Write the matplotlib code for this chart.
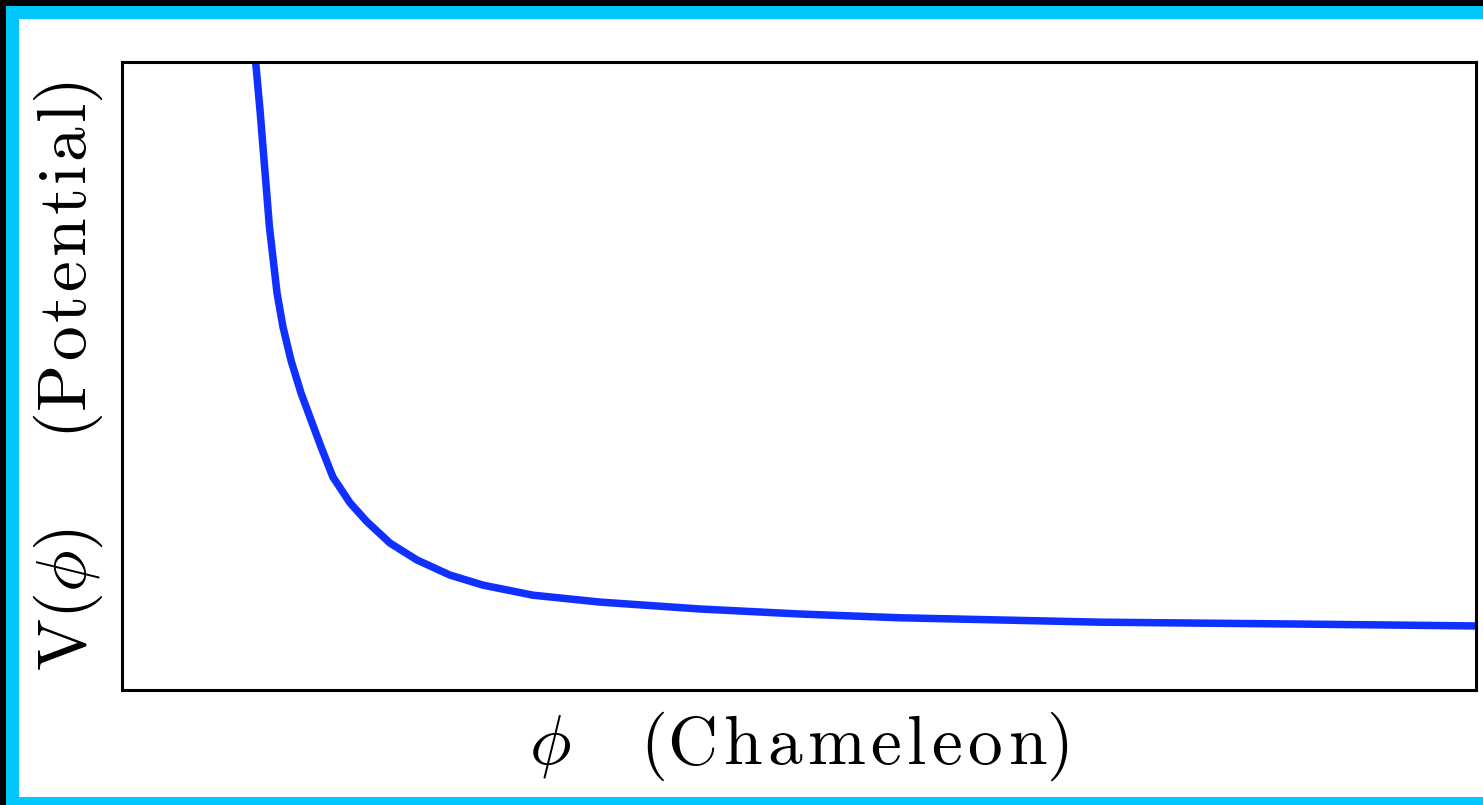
import numpy as np
import matplotlib
matplotlib.use('Agg')
import matplotlib.pyplot as plt
from matplotlib.patches import Rectangle

plt.rcParams['mathtext.fontset'] = 'cm'

# curve (arbitrary units, axes 0..10 by 0..1)
phi = [0.987, 1.019, 1.049, 1.089, 1.145, 1.189, 1.248, 1.322, 1.396, 1.470,
       1.558, 1.684, 1.809, 1.979, 2.179, 2.422, 2.666, 3.035, 3.530, 4.269,
       5.007, 5.746, 7.223, 8.700, 10.0]
V = [1.0, 0.924, 0.844, 0.737, 0.632, 0.578, 0.525, 0.473, 0.430, 0.387,
     0.339, 0.298, 0.268, 0.234, 0.207, 0.183, 0.167, 0.151, 0.140, 0.129,
     0.121, 0.115, 0.108, 0.105, 0.102]

# slightly spaced letters, the original font is wider than cm
sp = r'\hspace{0.09}'
xlabel = r'$\phi\hspace{1.15}(' + sp.join(r'\mathrm{%s}' % c for c in 'Chameleon') + ')$'
sp2 = r'\hspace{0.06}'
ylabel = (r'$\mathrm{V}(\phi)\hspace{1.4}(' +
          sp2.join(r'\mathrm{%s}' % c for c in 'Potential') + ')$')

fig = plt.figure(figsize=(14.83, 8.05), dpi=100)

# frame round the picture: black then cyan
fig.patches.append(Rectangle((0, 0), 1, 1, transform=fig.transFigure,
                             facecolor='black', edgecolor='none', zorder=-3))
fig.patches.append(Rectangle((6/1483, 0), 1, 1 - 6/805, transform=fig.transFigure,
                             facecolor='#00c8ff', edgecolor='none', zorder=-2))
fig.patches.append(Rectangle((19/1483, 8/805), 1, 1 - 27/805, transform=fig.transFigure,
                             facecolor='white', edgecolor='none', zorder=-1))

ax = fig.add_axes([122/1483, 1 - 690/805, (1476 - 122)/1483, (690 - 62)/805])
ax.plot(phi, V, color='#1030ff', lw=5.4, solid_capstyle='butt', solid_joinstyle='round')
ax.set_xlim(0, 10)
ax.set_ylim(0, 1)
ax.set_xticks([])
ax.set_yticks([])
for s in ax.spines.values():
    s.set_linewidth(2.2)

ax.set_xlabel(xlabel, fontsize=50, labelpad=14)
ax.set_ylabel(ylabel, fontsize=50, labelpad=12)

fig.savefig('out.png', dpi=100)
